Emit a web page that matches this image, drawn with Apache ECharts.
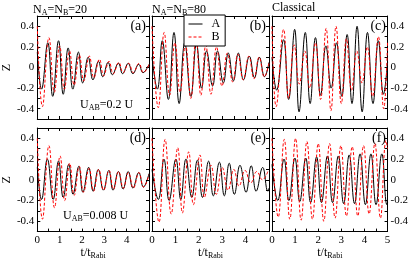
<!DOCTYPE html>
<html><head><meta charset="utf-8">
<script src="https://cdn.jsdelivr.net/npm/echarts@6/dist/echarts.min.js"></script>
<style>html,body{margin:0;padding:0;background:#fff}#c{width:411px;height:261px}</style>
</head><body><div id="c"></div>
<script>
// ---- data ----
const xTicks = [0, 1, 2, 3, 4, 5];
const yTicks = [-0.4, -0.2, 0, 0.2, 0.4];
const panelLabels = ['(a)', '(b)', '(c)', '(d)', '(e)', '(f)'];
const seriesNames = ['A', 'B'];
const columnTitles = [['N', 'A', '=N', 'B', '=20'], ['N', 'A', '=N', 'B', '=80'], ['Classical']];
const annotA = ['U', 'AB', '=0.2 U'];
const annotD = ['U', 'AB', '=0.008 U'];
const xName = ['t/t', 'Rabi'];
const yName = 'Z';

// Panel (a)
const a_A = [[0,0.15],[0.19,-0.21],[0.47,0.24],[0.69,-0.28],[0.95,0.26],[1.16,-0.26],[1.38,0.19],[1.59,-0.21],[1.84,0.15],[2.03,-0.15],[2.28,0.10],[2.49,-0.12],[2.74,0.06],[2.93,-0.09],[3.17,0.05],[3.36,-0.07],[3.63,0.04],[3.82,-0.06],[4.07,0.04],[4.28,-0.06],[4.54,0.03],[4.73,-0.05],[5,0.03]];
const a_B = [[0,0.40],[0.23,-0.38],[0.52,0.29],[0.76,-0.24],[1.0,0.21],[1.21,-0.21],[1.44,0.16],[1.65,-0.17],[1.88,0.12],[2.08,-0.13],[2.33,0.11],[2.53,-0.10],[2.78,0.08],[2.97,-0.08],[3.21,0.06],[3.4,-0.06],[3.65,0.05],[3.84,-0.05],[4.09,0.04],[4.3,-0.05],[4.55,0.04],[4.75,-0.05],[5,0.03]];
// Panel (b)
const b_A = [[0,0.10],[0.23,-0.21],[0.44,0.26],[0.70,-0.31],[0.94,0.34],[1.16,-0.35],[1.40,0.24],[1.66,-0.28],[1.90,0.23],[2.12,-0.20],[2.33,0.16],[2.59,-0.18],[2.80,0.16],[3.05,-0.15],[3.26,0.14],[3.48,-0.13],[3.69,0.14],[3.91,-0.12],[4.16,0.11],[4.38,-0.10],[4.59,0.10],[4.81,-0.09],[5,0.05]];
const b_B = [[0,0.40],[0.27,-0.39],[0.52,0.34],[0.75,-0.27],[0.98,0.24],[1.2,-0.24],[1.43,0.22],[1.66,-0.30],[1.88,0.29],[2.09,-0.27],[2.3,0.22],[2.52,-0.26],[2.76,0.20],[2.99,-0.18],[3.22,0.14],[3.45,-0.14],[3.67,0.13],[3.9,-0.12],[4.14,0.11],[4.36,-0.11],[4.58,0.10],[4.8,-0.09],[5,0.04]];
// Panel (c)
const c_A = [[0,0.10],[0.2,-0.22],[0.5,0.27],[0.72,-0.31],[0.98,0.37],[1.17,-0.43],[1.44,0.34],[1.65,-0.35],[1.88,0.29],[2.1,-0.27],[2.33,0.21],[2.56,-0.20],[2.79,0.24],[3.02,-0.28],[3.25,0.32],[3.46,-0.35],[3.68,0.40],[3.9,-0.43],[4.13,0.34],[4.37,-0.35],[4.6,0.26],[4.82,-0.26],[5,0.05]];
const c_B = [[0,0.40],[0.18,-0.38],[0.5,0.37],[0.72,-0.30],[0.96,0.22],[1.18,-0.16],[1.42,0.16],[1.63,-0.20],[1.88,0.24],[2.1,-0.31],[2.34,0.38],[2.55,-0.42],[2.77,0.40],[3.0,-0.35],[3.22,0.28],[3.44,-0.22],[3.67,0.16],[3.89,-0.15],[4.12,0.20],[4.35,-0.28],[4.6,0.30],[4.83,-0.40],[5,0.25]];
// Panel (d)
const d_A = [[0,0.12],[0.19,-0.19],[0.45,0.20],[0.71,-0.19],[0.95,0.18],[1.16,-0.17],[1.41,0.15],[1.6,-0.14],[1.86,0.13],[2.04,-0.12],[2.3,0.12],[2.5,-0.11],[2.73,0.10],[2.96,-0.10],[3.2,0.09],[3.39,-0.10],[3.63,0.08],[3.84,-0.09],[4.07,0.08],[4.28,-0.08],[4.54,0.07],[4.75,-0.07],[5,0.06]];
const d_B = [[0,0.40],[0.23,-0.38],[0.52,0.33],[0.77,-0.27],[1.02,0.23],[1.23,-0.20],[1.45,0.16],[1.65,-0.15],[1.88,0.13],[2.07,-0.12],[2.32,0.11],[2.52,-0.11],[2.75,0.10],[2.97,-0.10],[3.21,0.09],[3.41,-0.09],[3.64,0.08],[3.85,-0.08],[4.08,0.07],[4.3,-0.08],[4.55,0.07],[4.76,-0.07],[5,0.05]];
// Panel (e)
const e_A = [[0,0.10],[0.27,-0.19],[0.51,0.20],[0.73,-0.20],[1.02,0.20],[1.23,-0.19],[1.45,0.20],[1.70,-0.17],[1.94,0.19],[2.16,-0.17],[2.42,0.18],[2.62,-0.155],[2.88,0.17],[3.09,-0.155],[3.30,0.16],[3.52,-0.14],[3.76,0.14],[4.02,-0.12],[4.24,0.135],[4.45,-0.11],[4.73,0.12],[4.95,-0.11],[5,-0.08]];
const e_B = [[0,0.40],[0.3,-0.41],[0.56,0.39],[0.82,-0.33],[1.1,0.31],[1.3,-0.32],[1.57,0.27],[1.77,-0.24],[2.05,0.24],[2.24,-0.17],[2.52,0.14],[2.75,-0.14],[3.0,0.12],[3.25,-0.10],[3.5,0.10],[3.72,-0.06],[3.98,0.09],[4.22,-0.03],[4.48,0.08],[4.72,0.0],[4.95,0.08]];
// Panel (f)
const f_A = [[0,0.15],[0.25,-0.20],[0.52,0.20],[0.73,-0.20],[0.99,0.21],[1.2,-0.21],[1.46,0.21],[1.67,-0.22],[1.93,0.22],[2.14,-0.22],[2.4,0.23],[2.62,-0.22],[2.87,0.23],[3.1,-0.23],[3.34,0.24],[3.57,-0.23],[3.81,0.25],[4.04,-0.24],[4.28,0.25],[4.5,-0.24],[4.75,0.25],[4.97,-0.24],[5,-0.22]];
const f_B = [[0,0.40],[0.27,-0.36],[0.53,0.39],[0.77,-0.38],[1.02,0.40],[1.26,-0.39],[1.51,0.37],[1.75,-0.38],[2.0,0.35],[2.24,-0.40],[2.49,0.35],[2.73,-0.37],[2.98,0.33],[3.22,-0.35],[3.47,0.32],[3.71,-0.35],[3.96,0.33],[4.2,-0.33],[4.45,0.35],[4.69,-0.37],[4.93,0.38],[5,0.3]];

const panelData = [[a_A, a_B], [b_A, b_B], [c_A, c_B], [d_A, d_B], [e_A, e_B], [f_A, f_B]];

// ---- layout ----
const FONT = 'Liberation Serif';
const colLeft = [33, 152, 272];
const colWidth = [116, 117, 117];
const rowTop = [16, 128];
const rowHeight = [103, 104];
const colors = ['#000000', '#ff0000'];
const lineTypes = ['solid', [3, 2]];

const chart = echarts.init(document.getElementById('c'), null, {renderer: 'canvas'});

const grid = [], xAxis = [], yAxis = [], series = [], graphic = [];
const yFmt = v => {
  const k = Math.round(v * 10);
  const hit = yTicks.some(t => Math.round(t * 10) === k);
  if (!hit) return '';
  return k === 0 ? '0' : (k / 10).toString();
};
const xFmt = v => {
  const hit = xTicks.some(t => Math.abs(t - v) < 1e-6);
  return hit ? String(Math.round(v)) : '';
};
const subRich = {
  m: {fontFamily: FONT, fontSize: 12, color: '#000'},
  s: {fontFamily: FONT, fontSize: 8, color: '#000', padding: [7, 0, 0, 0]}
};
const richText = parts => parts.map((p, i) => (i % 2 === 0 ? '{m|' : '{s|') + p + '}').join('');

for (let i = 0; i < 6; i++) {
  const row = Math.floor(i / 3), col = i % 3;
  grid.push({left: colLeft[col], top: rowTop[row], width: colWidth[col], height: rowHeight[row], containLabel: false});
  const axLine = {show: true, onZero: false, lineStyle: {color: '#000', width: 1}};
  const tick = {show: true, inside: true, length: 3, lineStyle: {color: '#000', width: 1}};
  const lbl = {fontFamily: FONT, fontSize: 11, color: '#000'};
  xAxis.push({
    type: 'value', gridIndex: i, min: 0, max: 5, interval: 0.5, position: 'bottom',
    axisLine: axLine, axisTick: tick, splitLine: {show: false},
    axisLabel: Object.assign({show: row === 1, margin: 3, formatter: xFmt, showMaxLabel: col === 2}, lbl),
    name: row === 1 ? richText(xName) : '', nameLocation: 'middle', nameGap: 13,
    nameTextStyle: {rich: subRich}
  });
  xAxis.push({
    type: 'value', gridIndex: i, min: 0, max: 5, interval: 0.5, position: 'top',
    axisLine: axLine, axisTick: tick, splitLine: {show: false}, axisLabel: {show: false}
  });
  yAxis.push({
    type: 'value', gridIndex: i, min: -0.5, max: 0.5, interval: 0.1, position: 'left',
    axisLine: axLine, axisTick: tick, splitLine: {show: false},
    axisLabel: Object.assign({show: col === 0, margin: 3, formatter: yFmt}, lbl),
    name: col === 0 ? yName : '', nameLocation: 'middle', nameGap: 23, nameRotate: 90,
    nameTextStyle: {fontFamily: FONT, fontSize: 12, color: '#000'}
  });
  yAxis.push({
    type: 'value', gridIndex: i, min: -0.5, max: 0.5, interval: 0.1, position: 'right',
    axisLine: axLine, axisTick: tick, splitLine: {show: false},
    axisLabel: Object.assign({show: col === 2, margin: 3, formatter: yFmt}, lbl)
  });
  for (let s = 0; s < 2; s++) {
    series.push({
      type: 'line', name: seriesNames[s], xAxisIndex: 2 * i, yAxisIndex: 2 * i,
      data: panelData[i][s], smooth: 0.45, symbol: 'none', showSymbol: false,
      lineStyle: {color: colors[s], width: 1, type: lineTypes[s]},
      itemStyle: {color: colors[s]}, animation: false, clip: true, z: 2 + s
    });
  }
  graphic.push({
    type: 'text', x: colLeft[col] + colWidth[col] - 3, y: rowTop[row] + 3,
    style: {text: panelLabels[i], font: '14px "' + FONT + '"', fill: '#000', textAlign: 'right', textVerticalAlign: 'top'}
  });
}
for (let c = 0; c < 3; c++) {
  graphic.push({
    type: 'text', x: colLeft[c], y: 2,
    style: {text: richText(columnTitles[c]), rich: subRich, fill: '#000', textVerticalAlign: 'top'}
  });
}
graphic.push({type: 'text', x: 80, y: 97, style: {text: richText(annotA), rich: subRich, textVerticalAlign: 'top'}});
graphic.push({type: 'text', x: 63, y: 208, style: {text: richText(annotD), rich: subRich, textVerticalAlign: 'top'}});

chart.setOption({
  animation: false,
  backgroundColor: '#fff',
  grid, xAxis, yAxis, series, graphic,
  legend: {
    data: seriesNames, left: 184, top: 15, orient: 'vertical',
    itemWidth: 14, itemHeight: 10, itemGap: 1, padding: [3, 5, 3, 4],
    borderColor: '#000', borderWidth: 1, backgroundColor: '#fff', borderRadius: 0,
    itemStyle: {opacity: 0, borderWidth: 0},
    lineStyle: {width: 1},
    textStyle: {fontFamily: FONT, fontSize: 12, color: '#000', padding: [0, 0, 0, 4]},
    selectedMode: false, z: 10
  }
});
</script></body></html>
